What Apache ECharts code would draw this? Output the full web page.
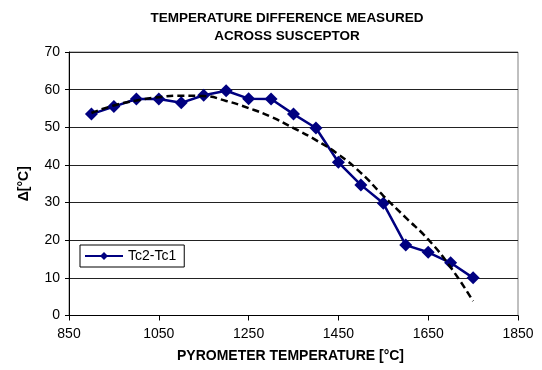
<!DOCTYPE html>
<html>
<head>
<meta charset="utf-8">
<script src="https://cdn.jsdelivr.net/npm/echarts@6/dist/echarts.min.js"></script>
<style>
  html, body { margin: 0; padding: 0; background: #fff; }
  #chart { width: 542px; height: 370px; }
</style>
</head>
<body>
<div id="chart"></div>
<script>
// Pyrometer temperature (°C) at each measurement
const temperatures = [900, 950, 1000, 1050, 1100, 1150, 1200, 1250, 1300, 1350, 1400, 1450, 1500, 1550, 1600, 1650, 1700, 1750];
// Measured difference Tc2 - Tc1 (°C)
const deltaTc = [53.5, 55.5, 57.5, 57.5, 56.5, 58.5, 59.7, 57.6, 57.5, 53.5, 49.8, 40.7, 34.7, 29.8, 18.7, 16.8, 14.0, 10.0];
// Fitted trend curve, sampled along the same temperature range
const trendTemps = [900, 950, 1000, 1050, 1100, 1150, 1200, 1250, 1300, 1350, 1400, 1450, 1500, 1550, 1600, 1650, 1700, 1750];
const trendValues = [53.8, 55.8, 57.1, 58.0, 58.4, 58.3, 57.0, 55.1, 52.8, 49.8, 46.6, 42.8, 37.9, 31.8, 26.0, 20.2, 12.8, 3.8];

const FONT = '"Liberation Sans", Arial, sans-serif';

const chart = echarts.init(document.getElementById('chart'), null, { renderer: 'canvas' });

chart.setOption({
  animation: false,
  backgroundColor: '#ffffff',
  textStyle: { fontFamily: FONT },
  title: {
    text: 'TEMPERATURE DIFFERENCE MEASURED\nACROSS SUSCEPTOR',
    left: 282,
    textAlign: 'center',
    top: 4,
    textStyle: { fontFamily: FONT, fontSize: 13.5, fontWeight: 'bold', color: '#000', lineHeight: 18.5 }
  },
  grid: {
    left: 69, right: 24, top: 52, bottom: 54.5,
    show: true, borderColor: '#808080', borderWidth: 1, backgroundColor: '#fff'
  },
  legend: {
    data: ['Tc2-Tc1'],
    left: 80, top: 245,
    orient: 'vertical',
    backgroundColor: '#fff',
    borderColor: '#000', borderWidth: 1,
    padding: [4, 8, 4, 4],
    itemWidth: 38, itemHeight: 10, itemGap: 5,
    textStyle: { fontFamily: FONT, fontSize: 14, color: '#000' }
  },
  xAxis: {
    type: 'value',
    min: 850, max: 1850, interval: 200,
    name: 'PYROMETER TEMPERATURE [°C]',
    nameLocation: 'middle', nameGap: 34,
    nameTextStyle: { fontFamily: FONT, fontSize: 14, fontWeight: 'bold', color: '#000', padding: [0, 0, 0, -6] },
    axisLine: { lineStyle: { color: '#000', width: 1 } },
    axisTick: { show: true, length: 5, inside: false, lineStyle: { color: '#000' } },
    axisLabel: { fontFamily: FONT, fontSize: 14, color: '#000', margin: 12, formatter: v => String(v) },
    splitLine: { show: false }
  },
  yAxis: {
    type: 'value',
    min: 0, max: 70, interval: 10,
    name: 'Δ[°C]',
    nameLocation: 'middle', nameGap: 38,
    nameRotate: 90,
    nameTextStyle: { fontFamily: FONT, fontSize: 14, fontWeight: 'bold', color: '#000' },
    axisLine: { show: true, lineStyle: { color: '#000', width: 1 } },
    axisTick: { show: true, length: 4, lineStyle: { color: '#000' } },
    axisLabel: { fontFamily: FONT, fontSize: 14, color: '#000', margin: 9 },
    splitLine: { show: true, lineStyle: { color: '#222', width: 1 } }
  },
  series: [
    {
      name: 'Tc2-Tc1',
      type: 'line',
      data: temperatures.map((t, i) => [t, deltaTc[i]]),
      symbol: 'diamond',
      symbolSize: 13,
      lineStyle: { color: '#000080', width: 2.5 },
      itemStyle: { color: '#000080' },
      z: 2
    },
    {
      name: 'Trend',
      type: 'line',
      data: trendTemps.map((t, i) => [t, trendValues[i]]),
      smooth: true,
      symbol: 'none',
      lineStyle: { color: '#000', width: 2.5, type: [7, 4] },
      z: 3
    }
  ]
});
</script>
</body>
</html>
